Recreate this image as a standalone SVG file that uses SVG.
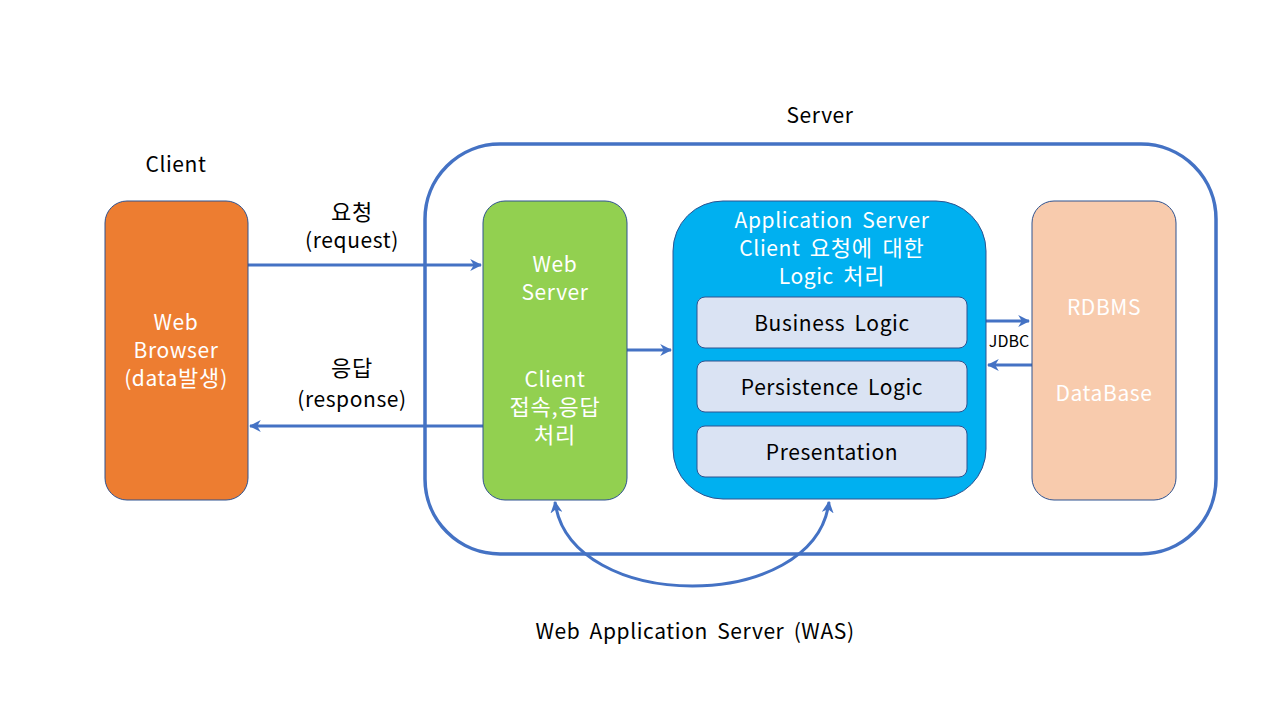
<svg xmlns="http://www.w3.org/2000/svg" width="1280" height="720" viewBox="0 0 1280 720">
<defs>
<style>
text{font-family:"Noto Sans CJK KR","Noto Sans",sans-serif;font-size:21px;letter-spacing:0.6px;word-spacing:4px;text-anchor:middle;}
.ko{font-size:22px;letter-spacing:0.8px;}
.w{fill:#ffffff;}
.k{fill:#000000;}
.node{stroke:#2F528F;stroke-width:1;}
.line{stroke:#4472C4;stroke-width:3;fill:none;}
</style>
<marker id="ah" viewBox="0 0 10 10" refX="9" refY="5" markerWidth="4" markerHeight="4" orient="auto-start-reverse" markerUnits="strokeWidth">
<path d="M0,0 L10,5 L0,10 L3,5 z" fill="#4472C4"/>
</marker>
</defs>
<rect width="1280" height="720" fill="#ffffff"/>
<g id="server-container">
<rect x="425" y="144" width="791" height="410" rx="75" fill="none" stroke="#4472C4" stroke-width="3.5"/>
<text x="820" y="123" class="k">Server</text>
</g>
<g id="client-label"><text x="176" y="172" class="k">Client</text></g>
<g id="connectors">
<line x1="248" y1="265" x2="481" y2="265" class="line" marker-end="url(#ah)"/>
<line x1="483" y1="426" x2="250" y2="426" class="line" marker-end="url(#ah)"/>
<line x1="627" y1="350" x2="671" y2="350" class="line" marker-end="url(#ah)"/>
<line x1="986" y1="321" x2="1029" y2="321" class="line" marker-end="url(#ah)"/>
<line x1="1032" y1="365" x2="988" y2="365" class="line" marker-end="url(#ah)"/>
<path d="M555,502 C570,614 815,614 829,502" class="line" marker-start="url(#ah)" marker-end="url(#ah)"/>
<text x="352" y="220" class="k"><tspan class="ko">요청</tspan></text>
<text x="352" y="248" class="k">(request)</text>
<text x="352" y="376" class="k"><tspan class="ko">응답</tspan></text>
<text x="352" y="407" class="k">(response)</text>
<text x="1009" y="347" class="k" style="font-size:16px;letter-spacing:0">JDBC</text>
<text x="695" y="639" class="k">Web Application Server (WAS)</text>
</g>
<g id="web-browser">
<rect x="105" y="201" width="143" height="299" rx="22" fill="#ED7D31" class="node"/>
<text x="176" y="330" class="w">Web</text>
<text x="176" y="358" class="w">Browser</text>
<text x="176" y="386" class="w">(data<tspan class="ko">발생</tspan>)</text>
</g>
<g id="web-server">
<rect x="483" y="201" width="144" height="299" rx="22" fill="#92D050" class="node"/>
<text x="555" y="272" class="w">Web</text>
<text x="555" y="300" class="w">Server</text>
<text x="555" y="387" class="w">Client</text>
<text x="555" y="415" class="w"><tspan class="ko">접속,응답</tspan></text>
<text x="555" y="443" class="w"><tspan class="ko">처리</tspan></text>
</g>
<g id="application-server">
<rect x="673" y="201" width="313" height="298" rx="50" fill="#00B0F0" class="node"/>
<text x="832" y="228" class="w">Application Server</text>
<text x="832" y="256" class="w">Client <tspan class="ko">요청에 대한</tspan></text>
<text x="832" y="284" class="w">Logic <tspan class="ko">처리</tspan></text>
</g>
<g id="business-logic">
<rect x="697" y="297" width="270" height="51" rx="8" fill="#DAE3F3" class="node"/>
<text x="832" y="331" class="k">Business Logic</text>
</g>
<g id="persistence-logic">
<rect x="697" y="361" width="270" height="51" rx="8" fill="#DAE3F3" class="node"/>
<text x="832" y="395" class="k">Persistence Logic</text>
</g>
<g id="presentation">
<rect x="697" y="426" width="270" height="51" rx="8" fill="#DAE3F3" class="node"/>
<text x="832" y="460" class="k">Presentation</text>
</g>
<g id="rdbms">
<rect x="1032" y="201" width="144" height="299" rx="22" fill="#F8CBAD" class="node"/>
<text x="1104" y="315" class="w">RDBMS</text>
<text x="1104" y="401" class="w">DataBase</text>
</g>
</svg>
